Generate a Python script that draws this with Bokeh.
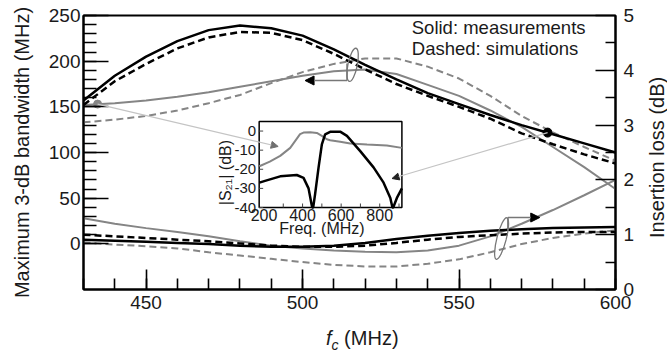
import numpy as np
from bokeh.plotting import figure
from bokeh.layouts import column, row
from bokeh.models import (Range1d, LinearAxis, FixedTicker, Label, Arrow, NormalHead, Div)
from bokeh.core.properties import value
from bokeh.embed import file_html
from bokeh.resources import INLINE

# ---------------- data ----------------
fc = [430, 440, 450, 460, 470, 480, 490, 500, 510, 520, 530, 540, 550, 560, 570, 580, 590, 600]
bw_meas = [157, 184, 205, 222, 234, 239, 236, 228, 213, 196, 180, 165, 153, 141, 130, 120, 110, 100]
bw_sim = [152, 178, 197, 214, 226, 232, 231, 223, 208, 191, 175, 162, 150, 137, 121, 109, 98, 88]
bw_meas_g = [152, 154, 157, 161, 166, 172, 178, 184, 189, 191, 186, 174, 162, 146, 128, 106, 84, 60]
bw_sim_g = [133, 136, 140, 146, 154, 163, 176, 188, 197, 203, 203, 194, 181, 162, 140, 122, 106, 91]
il_meas = [0.91, 0.89, 0.87, 0.85, 0.83, 0.80, 0.78, 0.78, 0.80, 0.85, 0.92, 0.98, 1.03, 1.07, 1.10, 1.12, 1.13, 1.14]
il_sim = [1.00, 0.97, 0.94, 0.91, 0.88, 0.84, 0.80, 0.78, 0.78, 0.80, 0.85, 0.91, 0.96, 0.99, 1.02, 1.04, 1.05, 1.05]
il_meas_g = [1.30, 1.20, 1.12, 1.05, 0.97, 0.88, 0.80, 0.75, 0.71, 0.69, 0.68, 0.71, 0.80, 0.97, 1.20, 1.45, 1.72, 2.00]
il_sim_g = [0.86, 0.82, 0.79, 0.75, 0.68, 0.62, 0.56, 0.50, 0.45, 0.42, 0.42, 0.47, 0.55, 0.68, 0.83, 0.94, 1.02, 1.08]

# inset |S21|
ins_f_g = [176, 230, 284, 336, 387, 405, 440, 474, 500, 526, 543, 595, 647, 734, 837, 915]
ins_db_g = [-18.4, -16.0, -13.0, -8.8, -1.6, -0.8, -0.6, -1.0, -2.5, -4.3, -4.8, -5.6, -6.5, -7.0, -7.5, -8.8]
ins_f_k = [176, 214, 284, 370, 405, 431, 446, 450, 455, 465, 483, 500, 517, 543, 595, 630, 699, 768, 820, 855, 866, 870, 889, 915]
ins_db_k = [-27, -25.8, -23.7, -23, -24.5, -30, -38, -40, -40, -33, -19, -7, -1.7, -0.4, -0.3, -2.5, -10.5, -19, -27, -35, -40, -40, -35, -30]

x_ticks_main = [450, 500, 550, 600]
y_ticks_left = [0, 50, 100, 150, 200, 250]
y_ticks_right = [0, 1, 2, 3, 4, 5]
x_ticks_inset = [200, 400, 600, 800]
y_ticks_inset = [0, -10, -20, -30, -40]

# ---------------- layout ----------------
W, H = 667, 352
DIV_H = 34          # x-title strip under the figure
RDIV_W = 30         # right-title strip beside the figure
PW, PH = W - RDIV_W, H - DIV_H
BL, BT = 83, 15
BR, BB = PW - 616, PH - 289
FW, FH = PW - BL - BR, PH - BT - BB
XR = (430, 600)
YL = (-50, 250)
YR = (0, 5)
INX = (175, 915)
INY = (-40, 5)
IX0, IX1 = 259 - BL, 402 - BL        # inset box in frame pixels
IY0, IY1 = 121 - BT, 207 - BT

sx = (IX1 - IX0) / (INX[1] - INX[0])
sy = (IY1 - IY0) / (INY[1] - INY[0])
ix_range = Range1d(INX[0] - IX0 / sx, INX[1] + (FW - IX1) / sx)
iy_range = Range1d(INY[0] - (FH - IY1) / sy, INY[1] + IY0 / sy)

FONT = "Liberation Sans"
TXT = "#1a1a1a"
GRAY = "#858585"

p = figure(width=PW, height=PH, x_range=Range1d(*XR), y_range=Range1d(*YL),
           output_backend="svg", toolbar_location=None,
           min_border_left=BL, min_border_right=BR, min_border_top=BT, min_border_bottom=BB,
           x_axis_location=None, y_axis_location=None)
p.xgrid.visible = False
p.ygrid.visible = False
p.outline_line_color = "black"
p.outline_line_width = 2
p.extra_y_ranges = {"il": Range1d(*YR), "iy": iy_range}
p.extra_x_ranges = {"ix": ix_range}

def style_axis(ax, tin, tmin):
    ax.axis_line_width = 2
    ax.axis_line_color = "black"
    ax.major_tick_out = 0
    ax.major_tick_in = tin
    ax.minor_tick_out = 0
    ax.minor_tick_in = tmin
    ax.major_tick_line_width = 1.6
    ax.minor_tick_line_width = 1.6
    ax.major_label_text_font = FONT
    ax.major_label_text_font_size = "19px"
    ax.major_label_text_color = TXT
    ax.axis_label_text_font = FONT
    ax.axis_label_text_font_size = "20px"
    ax.axis_label_text_font_style = "normal"
    ax.axis_label_text_color = TXT

xax = LinearAxis(ticker=FixedTicker(ticks=x_ticks_main, minor_ticks=list(range(430, 601, 10))))
style_axis(xax, 20, 11)
xax.major_label_standoff = 6
p.add_layout(xax, "below")

yax = LinearAxis(ticker=FixedTicker(ticks=y_ticks_left, minor_ticks=list(range(0, 251, 10))),
                 axis_label="Maximum 3-dB bandwidth (MHz)")
style_axis(yax, 25, 13)
yax.major_label_standoff = 3
yax.axis_label_standoff = 13
p.add_layout(yax, "left")

rax = LinearAxis(y_range_name="il",
                 ticker=FixedTicker(ticks=y_ticks_right, minor_ticks=[0.5, 1.5, 2.5, 3.5, 4.5]))
style_axis(rax, 20, 10)
rax.major_label_standoff = 8
p.add_layout(rax, "right")

# ---------------- main curves ----------------
DASH = "7 4"
p.line(fc, bw_meas_g, line_color=GRAY, line_width=2)
p.line(fc, bw_sim_g, line_color=GRAY, line_width=2, line_dash=DASH)
p.line(fc, il_meas_g, y_range_name="il", line_color=GRAY, line_width=2)
p.line(fc, il_sim_g, y_range_name="il", line_color=GRAY, line_width=2, line_dash=DASH)
p.line(fc, bw_meas, line_color="black", line_width=2.5)
p.line(fc, bw_sim, line_color="black", line_width=2.5, line_dash=DASH)
p.line(fc, il_meas, y_range_name="il", line_color="black", line_width=2.5)
p.line(fc, il_sim, y_range_name="il", line_color="black", line_width=2.5, line_dash=DASH)

# ---------------- inset ----------------
p.quad(left=[INX[0]], right=[INX[1]], bottom=[INY[0]], top=[INY[1]],
       x_range_name="ix", y_range_name="iy", fill_color="white", line_color="black", line_width=1.5)
tick_dx = 4 / sx
tick_dy = 4 / sy
xt_minor = list(range(300, 901, 100))
p.segment(x0=xt_minor, y0=[INY[0]] * len(xt_minor), x1=xt_minor, y1=[INY[0] + tick_dy] * len(xt_minor),
          x_range_name="ix", y_range_name="iy", line_color="#444", line_width=1)
p.segment(x0=[INX[0]] * len(y_ticks_inset), y0=y_ticks_inset, x1=[INX[0] + tick_dx] * len(y_ticks_inset),
          y1=y_ticks_inset, x_range_name="ix", y_range_name="iy", line_color="#444", line_width=1)
p.line(ins_f_g, ins_db_g, x_range_name="ix", y_range_name="iy", line_color=GRAY, line_width=2)
p.line(ins_f_k, ins_db_k, x_range_name="ix", y_range_name="iy", line_color="black", line_width=2.5)
p.text(x=[INX[0]] * len(y_ticks_inset), y=y_ticks_inset, text=[str(v) for v in y_ticks_inset],
       x_range_name="ix", y_range_name="iy", x_offset=-3, text_align="right", text_baseline="middle",
       text_font=value(FONT), text_font_size="15px", text_color=TXT)
p.text(x=x_ticks_inset, y=[INY[0]] * len(x_ticks_inset), text=[str(v) for v in x_ticks_inset],
       x_range_name="ix", y_range_name="iy", y_offset=1, text_align="center", text_baseline="top",
       text_font=value(FONT), text_font_size="16px", text_color=TXT)
p.add_layout(Label(x=506.2, y=16.8, text="Freq. (MHz)", text_align="center", text_baseline="middle",
                   text_font=FONT, text_font_size="16px", text_color=TXT))
p.add_layout(Label(x=475.5, y=78.0, text="|S\u2082\u2081| (dB)", angle=np.pi / 2, text_align="center",
                   text_baseline="middle", text_font=FONT, text_font_size="16px", text_color=TXT))

# ---------------- annotations ----------------
ANN = "#777777"
p.ellipse(x=[516.0], y=[196.0], width=3.0, height=37, angle=-0.2, fill_color=None,
          line_color=ANN, line_width=1.3)
p.line([514.2, 514.2], [197.4, 178.8], line_color=ANN, line_width=1.5)
p.add_layout(Arrow(x_start=514.2, y_start=178.8, x_end=500.8, y_end=178.8, line_color=ANN, line_width=1.5,
                   end=NormalHead(size=9, fill_color="black", line_color="black")))
p.ellipse(x=[563.6], y=[5.8], width=3.0, height=47, angle=-0.25, fill_color=None,
          line_color=ANN, line_width=1.3)
p.line([565.6, 565.6], [14.6, 28.8], line_color=ANN, line_width=1.5)
p.add_layout(Arrow(x_start=565.6, y_start=28.8, x_end=575.8, y_end=28.8, line_color=ANN, line_width=1.5,
                   end=NormalHead(size=9, fill_color="black", line_color="black")))
p.add_layout(Arrow(x_start=434.5, y_start=153, x_end=492.2, y_end=106.6, line_color="#c4c4c4", line_width=1.2,
                   end=NormalHead(size=7, fill_color="#707070", line_color="#707070")))
p.add_layout(Arrow(x_start=578.3, y_start=121.8, x_end=528.6, y_end=71.5, line_color="#c4c4c4", line_width=1.2,
                   end=NormalHead(size=7, fill_color="#222222", line_color="#222222")))
p.scatter([434.5], [153], size=8, color=GRAY)
p.scatter([578.3], [121.8], size=9, color="black")

p.add_layout(Label(x=534.9, y=236.9, text="Solid: measurements", text_baseline="middle",
                   text_font=FONT, text_font_size="18.5px", text_color=TXT))
p.add_layout(Label(x=534.9, y=213.9, text="Dashed: simulations", text_baseline="middle",
                   text_font=FONT, text_font_size="18.5px", text_color=TXT))

# ---------------- axis titles outside the frame (HTML strips) ----------------
FONT_CSS = "font-family:'Liberation Sans', Arial, sans-serif; color:#1a1a1a; white-space:nowrap;"
rtitle = Div(width=RDIV_W, height=PH,
             text=("<div style=\"padding-top:15px; margin:0\">"
                   "<div style=\"" + FONT_CSS + " writing-mode:vertical-rl; transform:rotate(180deg);"
                   " height:274px; width:30px; margin:0; text-align:center;"
                   " font-size:20px; line-height:30px\">Insertion loss (dB)</div></div>"))
xtitle = Div(width=W, height=DIV_H,
             text=("<div style=\"" + FONT_CSS + " padding-left:321px; margin-top:-14px; padding-top:0;"
                   " font-size:20px; line-height:22px\">"
                   "<i>f</i><span style=\"font-size:14px; font-style:italic; vertical-align:-5px;"
                   " line-height:0\">c</span> (MHz)</div>"))

layout = column(row(p, rtitle, spacing=0), xtitle, spacing=0)
open("out.html", "w").write(file_html(layout, INLINE))
